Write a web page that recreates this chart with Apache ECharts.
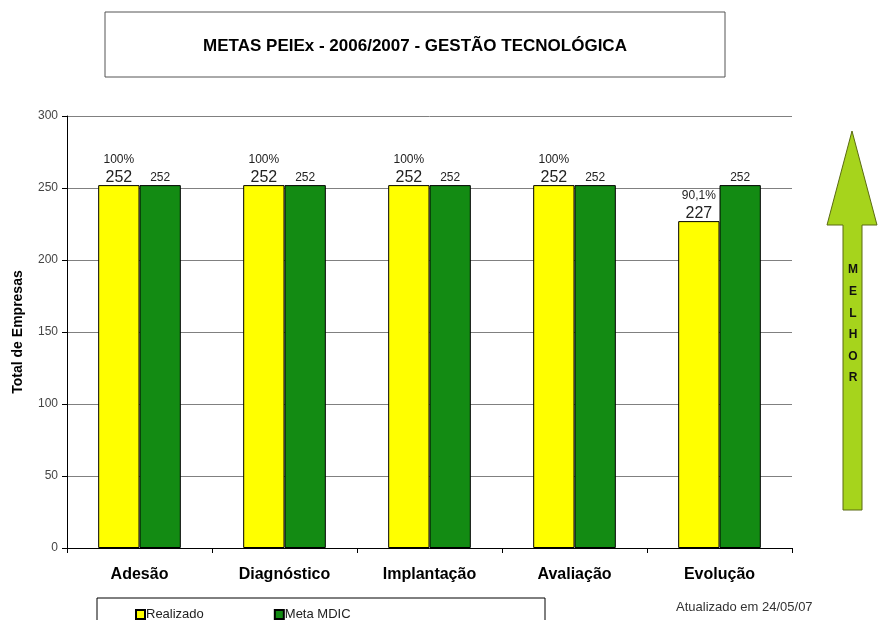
<!DOCTYPE html>
<html>
<head>
<meta charset="utf-8">
<script src="https://cdn.jsdelivr.net/npm/echarts@6/dist/echarts.min.js"></script>
<style>
  html, body { margin: 0; padding: 0; background: #fff; }
  #chart { width: 879px; height: 620px; }
</style>
</head>
<body>
<div id="chart"></div>
<script>
// dados
const categories = ['Adesão', 'Diagnóstico', 'Implantação', 'Avaliação', 'Evolução'];
const realizado = [252, 252, 252, 252, 227];
const metaMdic = [252, 252, 252, 252, 252];
const pctLabels = ['100%', '100%', '100%', '100%', '90,1%'];
const yTicks = [0, 50, 100, 150, 200, 250, 300];

const font = '"Liberation Sans", Arial, sans-serif';
const chart = echarts.init(document.getElementById('chart'));

chart.setOption({
  backgroundColor: '#fff',
  animation: false,
  textStyle: { fontFamily: font },
  grid: { left: 67, right: 87, top: 116, bottom: 72, containLabel: false, outerBoundsMode: 'none' },
  xAxis: {
    type: 'category',
    data: categories,
    axisLine: { lineStyle: { color: '#000', width: 1 } },
    axisTick: { show: true, length: 5, lineStyle: { color: '#000' } },
    axisLabel: { color: '#000', fontSize: 16, fontWeight: 'bold', margin: 19, fontFamily: font }
  },
  yAxis: {
    type: 'value',
    min: yTicks[0],
    max: yTicks[yTicks.length - 1],
    interval: 50,
    name: 'Total de Empresas',
    nameLocation: 'middle',
    nameGap: 42,
    nameTextStyle: { color: '#000', fontSize: 14, fontWeight: 'bold', fontFamily: font },
    axisLine: { show: true, lineStyle: { color: '#000' } },
    axisTick: { show: true, length: 5, lineStyle: { color: '#000' } },
    axisLabel: { color: '#444', fontSize: 12, margin: 9, fontFamily: font },
    splitLine: { lineStyle: { color: '#808080', width: 1 } }
  },
  legend: {
    left: 130,
    top: 603,
    itemWidth: 9,
    itemHeight: 9,
    itemGap: 70,
    icon: 'rect',
    textStyle: { color: '#222', fontSize: 13, fontFamily: font, padding: [0, 0, 0, -4] },
    data: ['Realizado', 'Meta MDIC']
  },
  series: [
    {
      name: 'Realizado',
      type: 'bar',
      data: realizado,
      barGap: '0%',
      barCategoryGap: '43%',
      itemStyle: { color: '#ffff00', borderColor: '#000', borderWidth: 1 },
      label: {
        show: true,
        position: 'top',
        distance: 0,
        formatter: p => '{p|' + pctLabels[p.dataIndex] + '}\n{v|' + p.value + '}',
        rich: {
          p: { fontSize: 12, color: '#222', fontFamily: font, lineHeight: 19 },
          v: { fontSize: 16, color: '#222', fontFamily: font, lineHeight: 16 }
        }
      }
    },
    {
      name: 'Meta MDIC',
      type: 'bar',
      data: metaMdic,
      itemStyle: { color: '#138b13', borderColor: '#000', borderWidth: 1 },
      label: {
        show: true,
        position: 'top',
        distance: 1,
        color: '#222',
        fontSize: 12,
        fontFamily: font
      }
    }
  ],
  graphic: [
    {
      type: 'rect',
      shape: { x: 105, y: 12, width: 620, height: 65 },
      style: { fill: '#fff', stroke: '#555', lineWidth: 1 }
    },
    {
      type: 'text',
      x: 415,
      y: 46,
      style: {
        text: 'METAS PEIEx - 2006/2007 - GESTÃO TECNOLÓGICA',
        fill: '#000',
        font: 'bold 17px ' + font,
        align: 'center',
        verticalAlign: 'middle'
      }
    },
    {
      type: 'rect',
      shape: { x: 97, y: 598, width: 448, height: 30 },
      style: { fill: 'none', stroke: '#000', lineWidth: 1 },
      z: 0
    },
    {
      type: 'text',
      x: 676,
      y: 607,
      style: {
        text: 'Atualizado em 24/05/07',
        fill: '#333',
        font: '13px ' + font,
        verticalAlign: 'middle'
      }
    },
    {
      type: 'polygon',
      shape: {
        points: [[852, 131], [877, 225], [862, 225], [862, 510], [843, 510], [843, 225], [827, 225]]
      },
      style: { fill: '#a6d41c', stroke: '#5b6b12', lineWidth: 1 }
    },
    {
      type: 'text',
      x: 853,
      y: 324,
      style: {
        text: 'M\nE\nL\nH\nO\nR',
        fill: '#111',
        font: 'bold 12px ' + font,
        lineHeight: 21.6,
        align: 'center',
        verticalAlign: 'middle'
      }
    }
  ]
});
</script>
</body>
</html>
